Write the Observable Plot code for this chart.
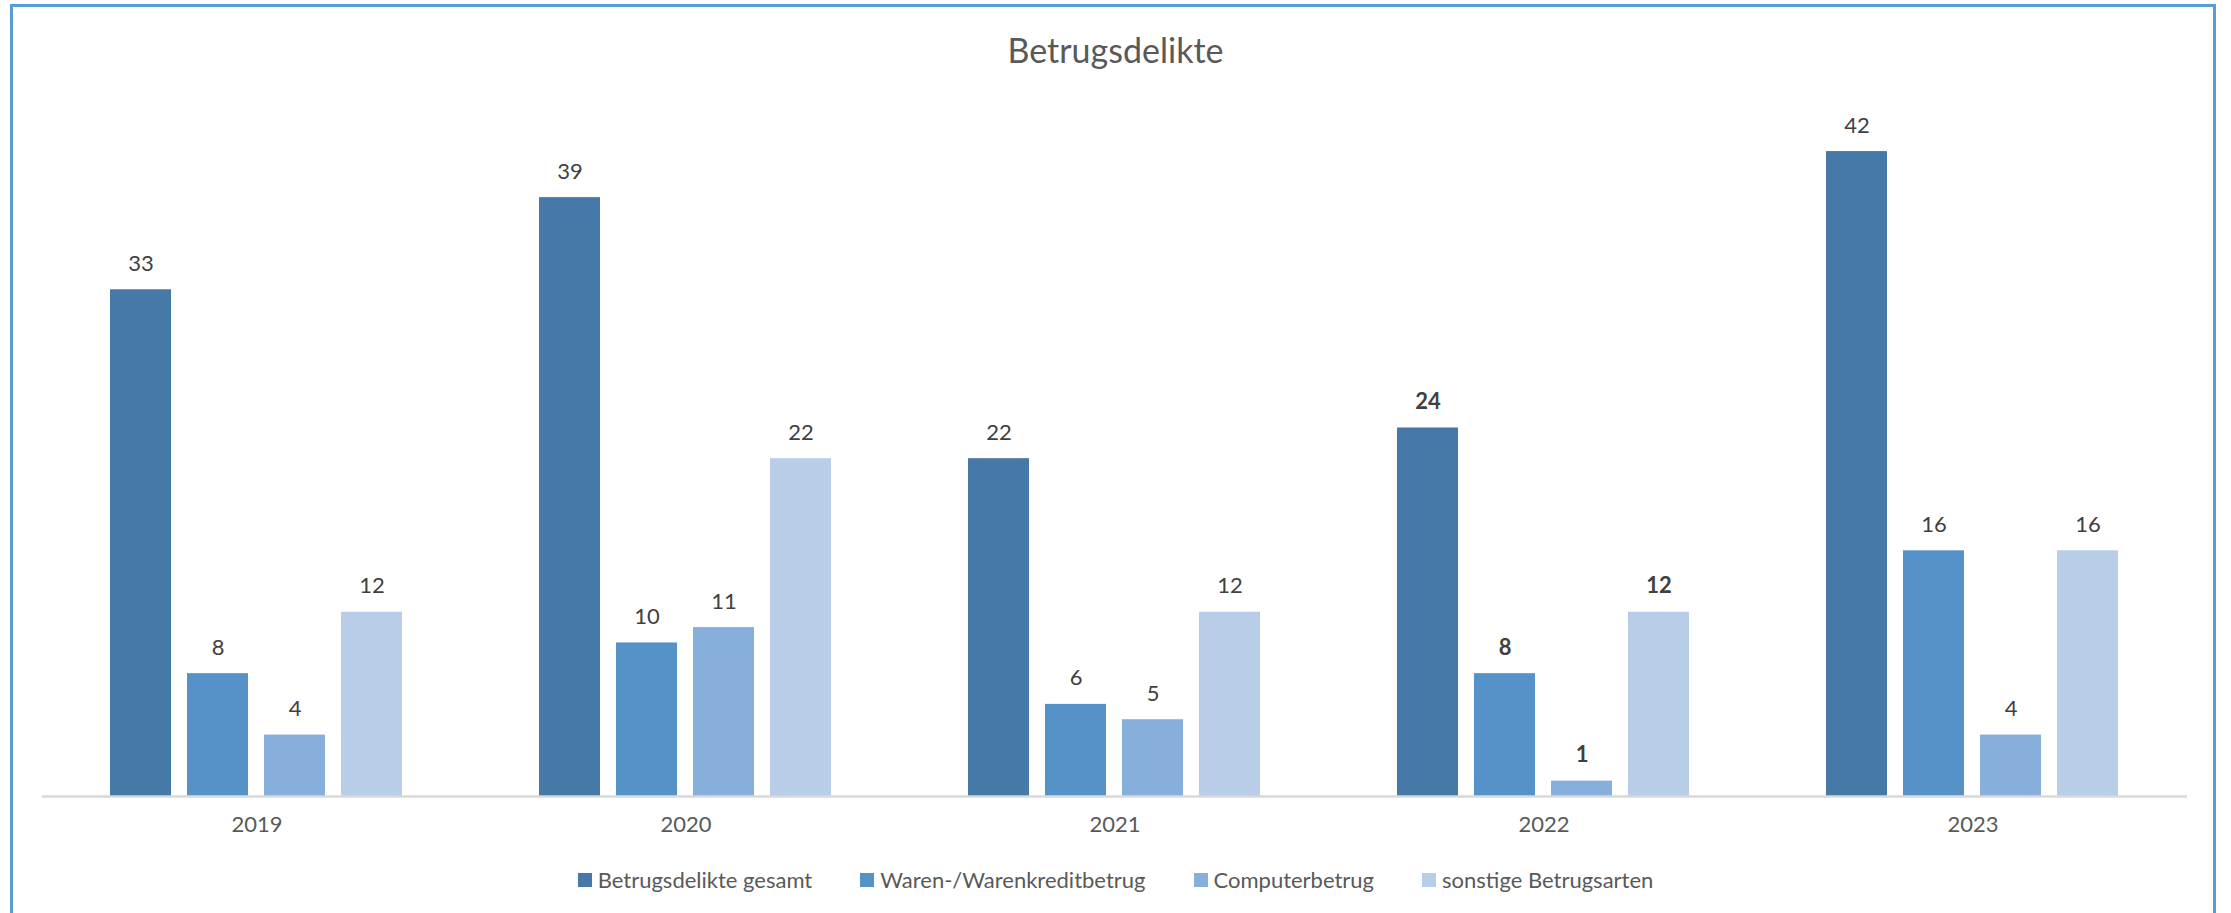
<!DOCTYPE html>
<html>
<head>
<meta charset="utf-8">
<script src="https://cdn.jsdelivr.net/npm/d3@7"></script>
<script src="https://cdn.jsdelivr.net/npm/@observablehq/plot@0.6"></script>
<style>
  html, body { margin: 0; padding: 0; background: #fff; width: 2231px; height: 913px; overflow: hidden; }
  body { position: relative; font-family: Lato, "Open Sans", sans-serif; }
  #frame { position: absolute; left: 10px; top: 4px; width: 2206px; height: 1000px; border: 3px solid #5b9bd5; box-sizing: border-box; }
  #title { position: absolute; left: 0; width: 2231px; top: 28px; text-align: center; font-size: 34px; color: #595959; line-height: 44px; }
  #chart { position: absolute; left: 0; top: 0; }
  #legend { position: absolute; left: 0; width: 2231px; top: 866px; display: flex; justify-content: center; gap: 48px; font-size: 22px; color: #595959; line-height: 28px; }
  .item { display: flex; align-items: center; gap: 6px; }
  .sw { width: 14px; height: 14px; display: inline-block; }
</style>
</head>
<body>
<div id="frame"></div>
<div id="title">Betrugsdelikte</div>
<div id="chart"></div>
<div id="legend"></div>
<script>
const years = ["2019", "2020", "2021", "2022", "2023"];
const series = ["Betrugsdelikte gesamt", "Waren-/Warenkreditbetrug", "Computerbetrug", "sonstige Betrugsarten"];
const gesamt = [33, 39, 22, 24, 42];
const waren = [8, 10, 6, 8, 16];
const computer = [4, 11, 5, 1, 4];
const sonstige = [12, 22, 12, 12, 16];
const boldYears = ["2022"];
const colors = ["#4779a8", "#5592c8", "#86afdc", "#b8cde8"];

const valuesBySeries = [gesamt, waren, computer, sonstige];
const data = years.flatMap((yr, i) => series.map((s, j) => ({year: yr, series: s, value: valuesBySeries[j][i]})));

const chart = Plot.plot({
  width: 2231,
  height: 850,
  marginTop: 105,
  marginBottom: 54,
  marginLeft: 40,
  marginRight: 42,
  fx: {domain: years, paddingInner: 0, paddingOuter: 0, label: null},
  x: {domain: series, paddingInner: 0.205, paddingOuter: 0.859, axis: null},
  y: {domain: [0, 45], axis: null},
  color: {domain: series, range: colors},
  style: {fontFamily: "Lato, 'Open Sans', sans-serif", background: "transparent"},
  marks: [
    Plot.barY(data, {fx: "year", x: "series", y: "value", fill: "series"}),
    Plot.ruleY([0], {stroke: "#d9d9d9", strokeWidth: 2.5}),
    Plot.text(data.filter(d => !boldYears.includes(d.year)), {fx: "year", x: "series", y: "value", text: d => String(d.value), dy: -26, fontSize: 22, fill: "#404040"}),
    Plot.text(data.filter(d => boldYears.includes(d.year)), {fx: "year", x: "series", y: "value", text: d => String(d.value), dy: -26, fontSize: 22, fontWeight: "bold", fill: "#404040"}),
    Plot.axisFx({anchor: "bottom", tickSize: 0, tickPadding: 20, fontSize: 22, color: "#595959", label: null})
  ]
});
document.getElementById("chart").appendChild(chart);

const legend = document.getElementById("legend");
series.forEach((s, i) => {
  const item = document.createElement("div");
  item.className = "item";
  const sw = document.createElement("span");
  sw.className = "sw";
  sw.style.background = colors[i];
  const t = document.createElement("span");
  t.textContent = s;
  item.appendChild(sw);
  item.appendChild(t);
  legend.appendChild(item);
});
</script>
</body>
</html>
